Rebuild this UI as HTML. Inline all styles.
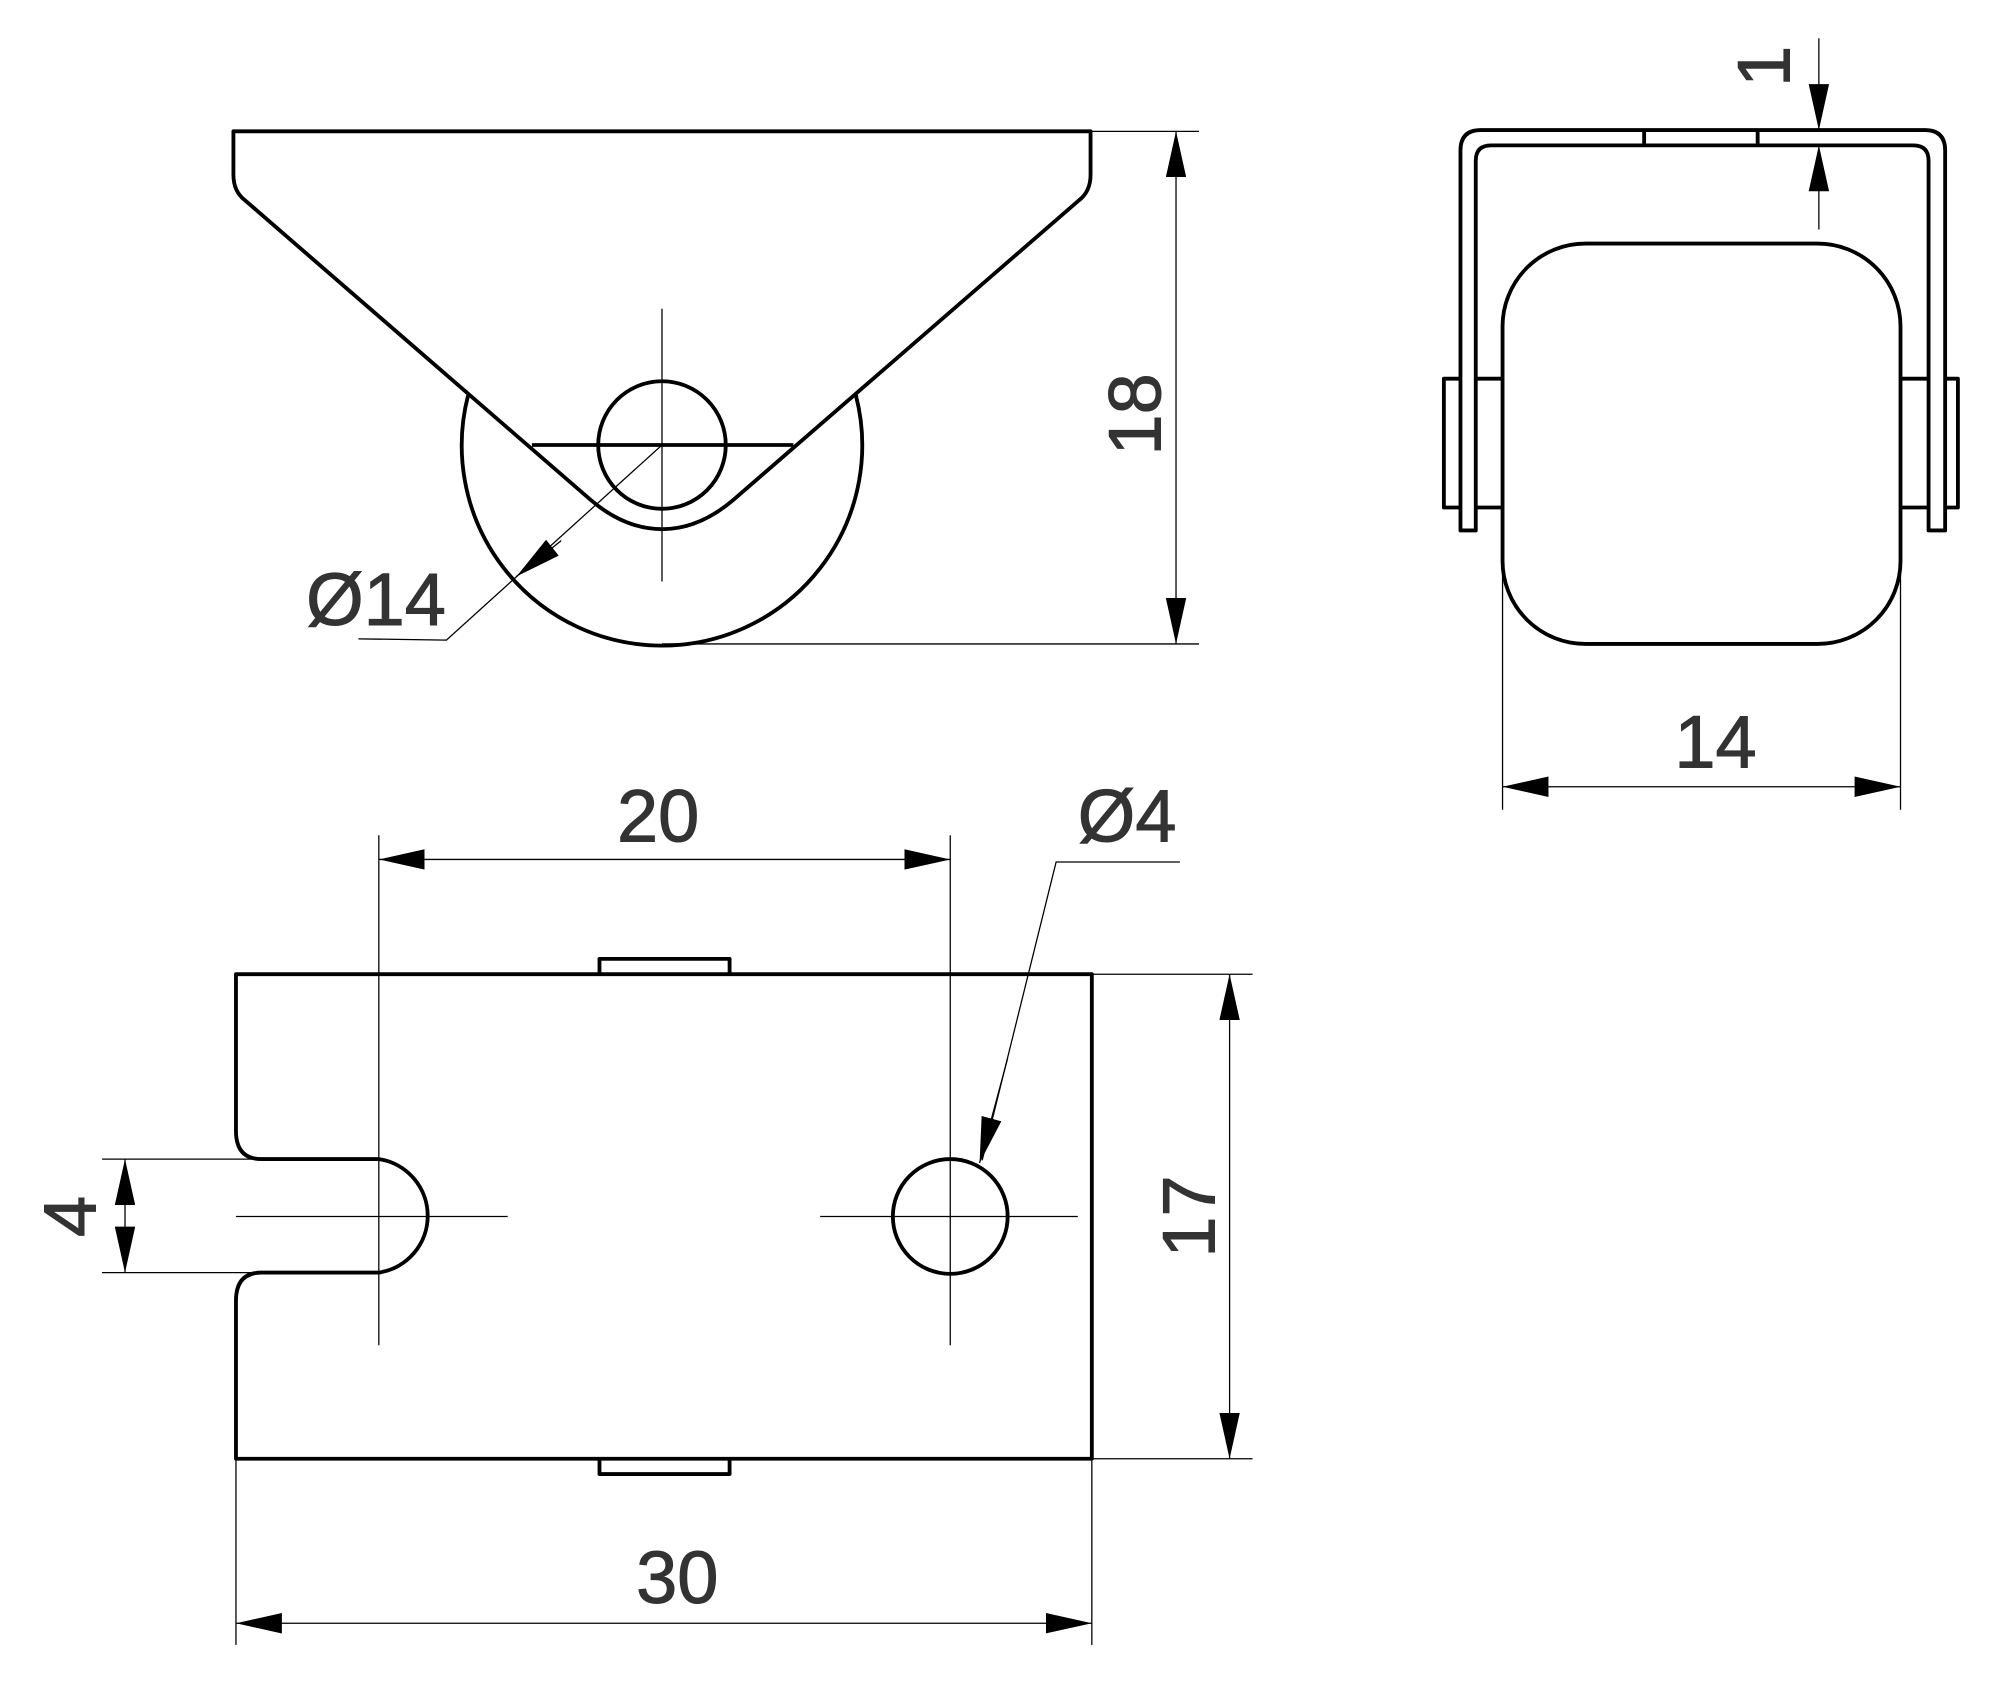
<!DOCTYPE html>
<html><head><style>html,body{margin:0;padding:0;background:#fff}svg{display:block}</style></head><body>
<svg width="2000" height="1687" viewBox="0 0 1568 1323" preserveAspectRatio="none" xmlns="http://www.w3.org/2000/svg">
<defs>
<marker id="a" viewBox="0 0 36 16" refX="36" refY="8" markerWidth="36" markerHeight="16" markerUnits="userSpaceOnUse" orient="auto-start-reverse"><path d="M0,0 L36,8 L0,16 Z" fill="#000"/></marker>
</defs>
<rect width="1568" height="1323" fill="#fff"/>
<g fill="none" stroke="#000" stroke-width="3" stroke-linejoin="round">
<path d="M183,103 H855 V137 Q855,150 846,157 L575,392 Q548,415 519,415 Q490,415 463,392 L192,157 Q183,150 183,137 Z"/>
<path d="M367,310 A157,157 0 1 0 671,310"/>
<line x1="417" y1="349" x2="622" y2="349"/>
<circle cx="519" cy="349" r="50"/>
<path d="M1145,416 V118 Q1145,102 1161,102 H1509 Q1525,102 1525,118 V416 H1512 V126 Q1512,114 1500,114 H1169 Q1157,114 1157,126 V416 Z"/>
<line x1="1289" y1="102" x2="1289" y2="114"/><line x1="1378" y1="102" x2="1378" y2="114"/>
<path d="M1145,297 H1132 V398 H1145 M1157,297 H1178 M1157,398 H1178"/>
<path d="M1525,297 H1535 V398 H1525 M1512,297 H1490 M1512,398 H1490"/>
<rect x="1178" y="191" width="312" height="314" rx="65" ry="65"/>
<path d="M185,764 H856 V1144 H185 V1020 Q185,998 205,998 H297 A45,45 0 0 0 297,909 H205 Q185,909 185,887 Z"/>
<path d="M470,764 V752 H572 V764 M470,1144 V1156 H572 V1144"/>
<circle cx="745" cy="954" r="45"/>
</g>
<g fill="none" stroke="#000" stroke-width="1">
<line x1="519" y1="242" x2="519" y2="456"/>
<line x1="855" y1="103" x2="940" y2="103"/><line x1="519" y1="505" x2="940" y2="505"/>
<line x1="922" y1="103" x2="922" y2="505" marker-start="url(#a)" marker-end="url(#a)"/>
<path d="M519,349 L350,502 L281,501"/>
<line x1="440" y1="424" x2="405" y2="452" marker-end="url(#a)"/>
<line x1="1426" y1="30" x2="1426" y2="102" marker-end="url(#a)"/>
<line x1="1426" y1="180" x2="1426" y2="114" marker-end="url(#a)"/>
<line x1="1178" y1="450" x2="1178" y2="635"/><line x1="1490" y1="450" x2="1490" y2="635"/>
<line x1="1178" y1="617" x2="1490" y2="617" marker-start="url(#a)" marker-end="url(#a)"/>
<line x1="185" y1="954" x2="398" y2="954"/><line x1="643" y1="954" x2="845" y2="954"/>
<line x1="297" y1="655" x2="297" y2="1055"/><line x1="745" y1="655" x2="745" y2="1055"/>
<line x1="297" y1="674" x2="745" y2="674" marker-start="url(#a)" marker-end="url(#a)"/>
<path d="M925,676 H828 L770,910"/>
<line x1="790" y1="830" x2="768" y2="912" marker-end="url(#a)"/>
<line x1="80" y1="909" x2="205" y2="909"/><line x1="80" y1="998" x2="205" y2="998"/>
<line x1="98" y1="909" x2="98" y2="998" marker-start="url(#a)" marker-end="url(#a)"/>
<line x1="856" y1="764" x2="982" y2="764"/><line x1="856" y1="1144" x2="982" y2="1144"/>
<line x1="964" y1="764" x2="964" y2="1144" marker-start="url(#a)" marker-end="url(#a)"/>
<line x1="185" y1="1144" x2="185" y2="1290"/><line x1="856" y1="1144" x2="856" y2="1290"/>
<line x1="185" y1="1273" x2="856" y2="1273" marker-start="url(#a)" marker-end="url(#a)"/>
</g>
<g font-family="'Liberation Sans', sans-serif" font-size="58" fill="#333" stroke="#333" stroke-width="0.8">
<text x="240" y="490">Ø14</text>
<text transform="translate(910,325) rotate(-90)" text-anchor="middle">18</text>
<text transform="translate(1403,52) rotate(-90)" text-anchor="middle">1</text>
<text x="1345" y="602" text-anchor="middle">14</text>
<text x="516" y="660" text-anchor="middle">20</text>
<text x="845" y="660">Ø4</text>
<text transform="translate(75,954) rotate(-90)" text-anchor="middle">4</text>
<text transform="translate(952,954) rotate(-90)" text-anchor="middle">17</text>
<text x="531" y="1257" text-anchor="middle">30</text>
</g>
</svg>
</body></html>
